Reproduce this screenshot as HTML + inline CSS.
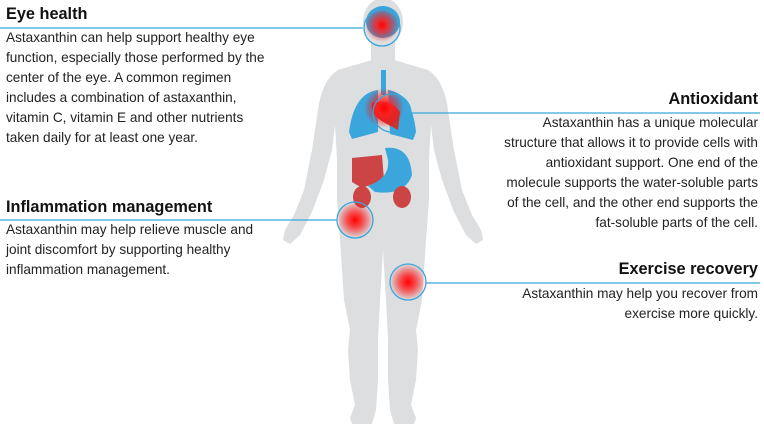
<!DOCTYPE html>
<html><head><meta charset="utf-8"><style>
body{margin:0;width:764px;height:429px;background:#fff;position:relative;overflow:hidden;font-family:"Liberation Sans",sans-serif;color:#222}
.t{position:absolute;font-size:13.6px;line-height:20px;white-space:nowrap}
.h{position:absolute;font-size:16.3px;font-weight:bold;color:#111;white-space:nowrap}
.r{text-align:right}
svg{position:absolute;left:0;top:0}
</style></head><body>
<svg width="764" height="429">
<defs>
<radialGradient id="g"><stop offset="0" stop-color="#ff0000"/><stop offset="0.35" stop-color="#ff2020" stop-opacity="0.85"/><stop offset="1" stop-color="#ff0000" stop-opacity="0"/></radialGradient>
</defs>
<g fill="#dcdee0">
<ellipse cx="383" cy="22" rx="20" ry="24"/>
<rect x="371" y="40" width="24" height="30"/>
<path d="M372,60 L338,70 Q322,80 318,110 L312,150 L304,190 L294,215 L285,230 L283,240 L290,244 L300,235 L312,212 L324,180 L332,150 L335,125 L337,160 L337,200 L340,240 L344,300 L350,330 L348,350 L350,380 L355,405 L350,418 L352,424 L372,424 L376,410 L378,380 L378,340 L380,300 L383,250 L386,300 L388,340 L388,380 L390,410 L394,424 L414,424 L416,418 L411,405 L416,380 L418,350 L416,330 L422,300 L426,240 L429,200 L429,160 L431,125 L434,150 L442,180 L454,212 L466,235 L476,244 L483,240 L481,230 L472,215 L462,190 L454,150 L448,110 Q444,80 428,70 L394,60 Z"/>
</g>
<ellipse cx="383" cy="22" rx="17" ry="16" fill="#3aa6dc"/>
<rect x="381" y="70" width="5" height="25" fill="#3aa6dc"/>
<path d="M378,90 Q354,93 349,132 L352,139 L378,132 Z" fill="#3aa6dc"/>
<path d="M388,90 Q412,93 416,132 L413,140 L390,134 Z" fill="#3aa6dc"/>
<path d="M372,103 Q390,98 400,112 L398,130 L385,123 Q370,115 372,103 Z" fill="#cc3333"/>
<path d="M352,158 L382,155 L384,180 L362,188 L352,182 Z" fill="#cc4444"/>
<path d="M385,148 Q410,145 412,175 Q405,196 375,192 L368,186 Q390,178 388,160 Z" fill="#3aa6dc"/>
<ellipse cx="362" cy="197" rx="9" ry="11" fill="#cc4444"/>
<ellipse cx="402" cy="197" rx="9" ry="11" fill="#cc4444"/>
<g stroke="#3aa6dc" stroke-width="1.3">
<line x1="0" y1="28" x2="363" y2="28"/>
<line x1="411" y1="113" x2="760" y2="113"/>
<line x1="0" y1="220" x2="337" y2="220"/>
<line x1="426" y1="283" x2="760" y2="283"/>
</g>
<g>
<circle cx="382" cy="25" r="17" fill="url(#g)"/>
<circle cx="384" cy="108" r="20" fill="url(#g)"/>
<circle cx="355" cy="220" r="18" fill="url(#g)"/>
<circle cx="408" cy="282" r="18" fill="url(#g)"/>
</g>
<g fill="none" stroke="#3aa6dc" stroke-width="1.3">
<circle cx="382" cy="28" r="18"/>
<circle cx="392" cy="113" r="19"/>
<circle cx="355" cy="220" r="18"/>
<circle cx="408" cy="282" r="18"/>
</g>
</svg>
<div class="h" style="left:6px;top:5px">Eye health</div>
<div class="t" style="left:6px;top:28px">Astaxanthin can help support healthy eye<br>function, especially those performed by the<br>center of the eye. A common regimen<br>includes a combination of astaxanthin,<br>vitamin C, vitamin E and other nutrients<br>taken daily for at least one year.</div>
<div class="h" style="left:6px;top:198px">Inflammation management</div>
<div class="t" style="left:6px;top:220px">Astaxanthin may help relieve muscle and<br>joint discomfort by supporting healthy<br>inflammation management.</div>
<div class="h r" style="right:6px;top:90px">Antioxidant</div>
<div class="t r" style="right:6px;top:113px">Astaxanthin has a unique molecular<br>structure that allows it to provide cells with<br>antioxidant support. One end of the<br>molecule supports the water-soluble parts<br>of the cell, and the other end supports the<br>fat-soluble parts of the cell.</div>
<div class="h r" style="right:6px;top:260px">Exercise recovery</div>
<div class="t r" style="right:6px;top:284px">Astaxanthin may help you recover from<br>exercise more quickly.</div>
</body></html>
